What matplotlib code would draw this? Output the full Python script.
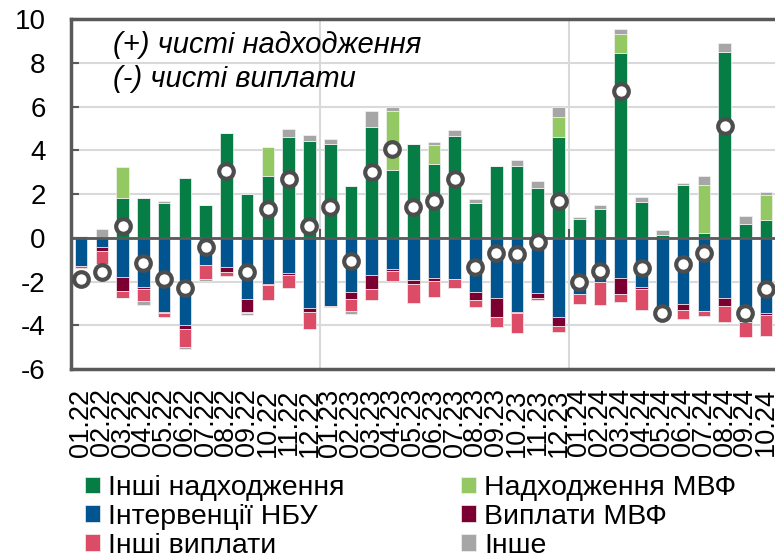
import numpy as np
import matplotlib
matplotlib.use("Agg")
import matplotlib.pyplot as plt

plt.rcParams['font.family'] = ['Liberation Sans', 'DejaVu Sans']
plt.rcParams['axes.unicode_minus'] = False

months = ["01.22", "02.22", "03.22", "04.22", "05.22", "06.22", "07.22", "08.22",
          "09.22", "10.22", "11.22", "12.22",
          "01.23", "02.23", "03.23", "04.23", "05.23", "06.23", "07.23", "08.23",
          "09.23", "10.23", "11.23", "12.23",
          "01.24", "02.24", "03.24", "04.24", "05.24", "06.24", "07.24", "08.24",
          "09.24", "10.24"]

other_inflows = [0.10, 0.00, 1.84, 1.84, 1.61, 2.74, 1.52, 4.78, 2.00, 2.83, 4.60, 4.43,
                 4.31, 2.36, 5.07, 3.12, 4.31, 3.36, 4.66, 1.61, 3.30, 3.29, 2.30, 4.61,
                 0.87, 1.30, 8.44, 1.62, 0.12, 2.40, 0.24, 8.49, 0.64, 0.82]
imf_inflows = [0, 0, 1.40, 0, 0, 0, 0, 0, 0, 1.31, 0, 0,
               0, 0, 0, 2.69, 0, 0.90, 0, 0, 0, 0, 0, 0.92,
               0, 0, 0.89, 0, 0, 0, 2.20, 0, 0, 1.15]
nbu_interventions = [-1.31, -0.40, -1.77, -2.27, -3.38, -4.00, -1.22, -1.35, -2.79, -2.10, -1.61, -3.21,
                     -3.12, -2.48, -1.69, -1.42, -1.92, -1.84, -1.87, -2.48, -2.74, -3.38, -2.50, -3.61,
                     -2.56, -2.00, -1.85, -2.27, -3.45, -3.04, -3.36, -2.73, -3.85, -3.45]
imf_payments = [0, -0.20, -0.64, -0.06, -0.08, -0.15, 0, -0.20, -0.61, -0.06, -0.10, -0.18,
                0, -0.30, -0.64, -0.10, -0.20, -0.15, 0, -0.37, -0.87, -0.08, -0.24, -0.43,
                0, 0, -0.72, -0.09, 0, -0.24, 0, -0.38, 0, -0.06]
other_payments = [-0.07, -0.58, -0.33, -0.58, -0.15, -0.84, -0.65, -0.18, -0.05, -0.67, -0.58, -0.80,
                  -0.06, -0.55, -0.50, -0.44, -0.84, -0.73, -0.41, -0.32, -0.47, -0.91, -0.12, -0.27,
                  -0.46, -1.07, -0.37, -0.92, 0, -0.44, -0.20, -0.75, -0.70, -0.98]
other = [0, 0.40, -0.03, -0.15, 0.08, -0.10, -0.12, 0, -0.06, 0, 0.36, 0.26,
         0.23, -0.14, 0.73, 0.17, 0, 0.11, 0.29, 0.17, 0, 0.26, 0.30, 0.44,
         0.07, 0.20, 0.24, 0.23, 0.22, 0.12, 0.37, 0.41, 0.38, 0.12]
net = [-1.87, -1.57, 0.55, -1.16, -1.87, -2.31, -0.44, 3.04, -1.54, 1.32, 2.69, 0.52,
       1.43, -1.07, 3.03, 4.05, 1.39, 1.69, 2.71, -1.35, -0.70, -0.75, -0.21, 1.70,
       -2.02, -1.50, 6.73, -1.39, -3.42, -1.18, -0.70, 5.10, -3.45, -2.34]

series = [
    ("Інші надходження", other_inflows, "#077d46"),
    ("Надходження МВФ", imf_inflows, "#93c862"),
    ("Інтервенції НБУ", nbu_interventions, "#00548f"),
    ("Виплати МВФ", imf_payments, "#7b0031"),
    ("Інші виплати", other_payments, "#dd4c66"),
    ("Інше", other, "#a6a6a6"),
]

fig = plt.figure(figsize=(7.75, 5.58), dpi=100)
ax = fig.add_axes([70.7 / 775, 1 - 369 / 558, (776.5 - 70.7) / 775, (369 - 19.3) / 558])

x = np.arange(len(months))
pos_cum = np.zeros(len(months))
neg_cum = np.zeros(len(months))
handles = {}
for name, vals, col in series:
    v = np.array(vals, dtype=float)
    bottom = np.where(v >= 0, pos_cum, neg_cum)
    bc = ax.bar(x, v, 0.61, bottom=bottom, color=col, edgecolor='#f2f2f2',
                linewidth=0.5, zorder=3, label=name)
    handles[name] = bc
    pos_cum = pos_cum + np.where(v >= 0, v, 0)
    neg_cum = neg_cum + np.where(v < 0, v, 0)

ax.plot(x, net, linestyle='none', marker='o', ms=10.5, mfc='white', mec='#4d4d4d',
        mew=3.0, zorder=6)

ax.set_xlim(-0.5, 33.5)
ax.set_ylim(-6, 10)
ax.set_yticks(np.arange(-6, 11, 2))
ax.set_yticklabels([str(v) for v in range(-6, 11, 2)])
ax.set_xticks(x)
ax.set_xticklabels(months, rotation=90, fontsize=19.5)
ax.tick_params(axis='x', length=0, pad=14)
ax.tick_params(axis='y', direction='in', length=6, width=1.5, color='#595959',
               labelsize=20, pad=18)

for yv in range(-4, 10, 2):
    ax.axhline(yv, color='#d9d9d9', lw=1.5, zorder=0)
for xv in (11.5, 23.5):
    ax.axvline(xv, color='#d9d9d9', lw=1.5, zorder=0)
    ax.plot([xv, xv], [0, 0.35], color='#595959', lw=1.5, zorder=4)
ax.axhline(0, color='#595959', lw=2.0, zorder=4)

for s in ax.spines.values():
    s.set_color('#595959')
    s.set_linewidth(2.5)

fig.text(113 / 775, 1 - 45 / 558, "(+) чисті надходження", fontsize=21, style='italic',
         va='center', ha='left')
fig.text(113 / 775, 1 - 79 / 558, "(-) чисті виплати", fontsize=21, style='italic',
         va='center', ha='left')

order = ["Інші надходження", "Інтервенції НБУ", "Інші виплати",
         "Надходження МВФ", "Виплати МВФ", "Інше"]
fig.legend([handles[n] for n in order], order, loc='upper left',
           bbox_to_anchor=(85 / 775, 1 - 475 / 558), ncol=2, frameon=False,
           fontsize=20.5, handlelength=0.53, handleheight=0.53, handletextpad=0.28,
           labelspacing=0.1, columnspacing=4.1, borderpad=0, borderaxespad=0)

fig.savefig("out.png", dpi=100)
